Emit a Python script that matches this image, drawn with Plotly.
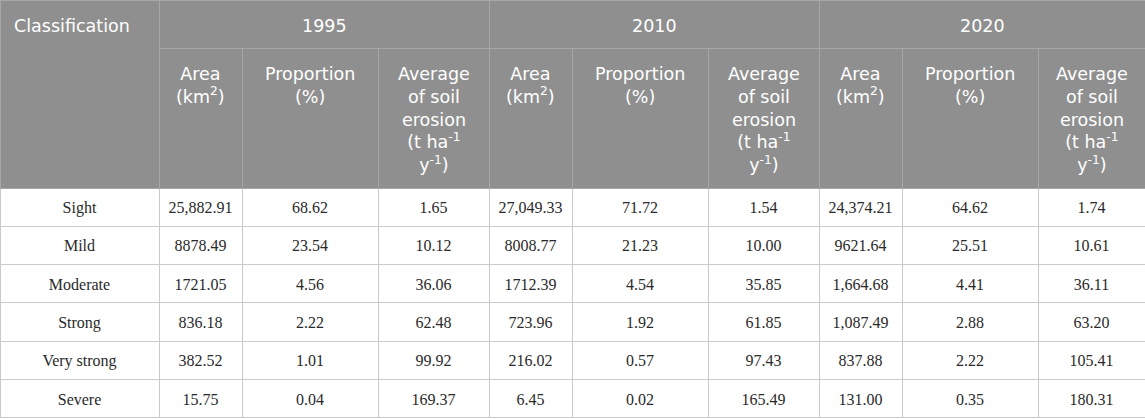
import plotly.graph_objects as go

# soil erosion intensity classes and values per year (as printed in the table)
classes = ['Sight', 'Mild', 'Moderate', 'Strong', 'Very strong', 'Severe']
years = ['1995', '2010', '2020']

area_1995 = ['25,882.91', '8878.49', '1721.05', '836.18', '382.52', '15.75']
prop_1995 = ['68.62', '23.54', '4.56', '2.22', '1.01', '0.04']
avg_1995 = ['1.65', '10.12', '36.06', '62.48', '99.92', '169.37']

area_2010 = ['27,049.33', '8008.77', '1712.39', '723.96', '216.02', '6.45']
prop_2010 = ['71.72', '21.23', '4.54', '1.92', '0.57', '0.02']
avg_2010 = ['1.54', '10.00', '35.85', '61.85', '97.43', '165.49']

area_2020 = ['24,374.21', '9621.64', '1,664.68', '1,087.49', '837.88', '131.00']
prop_2020 = ['64.62', '25.51', '4.41', '2.88', '2.22', '0.35']
avg_2020 = ['1.74', '10.61', '36.11', '63.20', '105.41', '180.31']

first_header = 'Classification'
sub_headers = ['Area<br>(km<sup>2</sup>)',
               'Proportion<br>(%)',
               'Average<br>of soil<br>erosion<br>(t ha<sup>-1</sup><br>y<sup>-1</sup>)']

W, H = 1145, 419
col_w = [159, 83, 136, 111, 83, 136, 111, 83, 136, 107]
YEAR_ROW_H = 48
HEADER_H = 188
ROW_H = 38.3
TEXT_DROP = 5  # plotly puts cell text near the top, push it down a bit
HEAD_GRAY = '#8f8f8f'
HEAD_LINE = '#a6a6a6'
BODY_LINE = '#cbcbcb'
CLEAR = 'rgba(0,0,0,0)'
HEAD_FONT = dict(family='DejaVu Sans', size=17.5, color='white')

cell_vals = [classes,
             area_1995, prop_1995, avg_1995,
             area_2010, prop_2010, avg_2010,
             area_2020, prop_2020, avg_2020]

fig = go.Figure()

# grid: header block + white body cells
fig.add_trace(go.Table(
    domain=dict(x=[0, 1], y=[0, 1]),
    columnwidth=col_w,
    header=dict(values=[' '] * len(col_w),
                fill_color=HEAD_GRAY,
                line=dict(color=HEAD_LINE, width=1),
                height=HEADER_H),
    cells=dict(values=[[' '] * len(classes) for _ in col_w],
               fill_color='white',
               line=dict(color=BODY_LINE, width=1),
               height=ROW_H)))

# year row spanning three columns each, drawn on top
group_w = [sum(col_w[1:4]), sum(col_w[4:7]), sum(col_w[7:10])]
fig.add_trace(go.Table(
    domain=dict(x=[col_w[0] / W, 1], y=[0, 1]),
    columnwidth=group_w,
    header=dict(values=[' '] * 3,
                fill_color=HEAD_GRAY,
                line=dict(color=HEAD_LINE, width=1),
                height=YEAR_ROW_H),
    cells=dict(values=[[' '], [' '], [' ']], height=1,
               fill_color=CLEAR, line=dict(color=CLEAR, width=0))))

# body values, transparent table laid over the grid
fig.add_trace(go.Table(
    domain=dict(x=[0, 1], y=[0, 1]),
    columnwidth=col_w,
    header=dict(values=[' '] * len(col_w),
                fill_color=CLEAR,
                line=dict(color=CLEAR, width=0),
                height=HEADER_H + TEXT_DROP),
    cells=dict(values=cell_vals,
               fill_color=CLEAR,
               line=dict(color=CLEAR, width=0),
               align='center',
               font=dict(family='Liberation Serif', size=16, color='#2a2a2a'),
               height=ROW_H)))

# header texts
edges = [0]
for w in col_w:
    edges.append(edges[-1] + w)


def py(px):
    return 1 - px / H


fig.add_annotation(x=12 / W, y=py(26), xref='paper', yref='paper',
                   text=first_header, showarrow=False,
                   xanchor='left', yanchor='middle', font=HEAD_FONT)
for g, yr in enumerate(years):
    x0 = edges[1 + 3 * g]
    x1 = edges[4 + 3 * g]
    fig.add_annotation(x=(x0 + x1) / 2 / W, y=py(26), xref='paper', yref='paper',
                       text=yr, showarrow=False,
                       xanchor='center', yanchor='middle', font=HEAD_FONT)
    for k, sh in enumerate(sub_headers):
        c = 1 + 3 * g + k
        fig.add_annotation(x=(edges[c] + edges[c + 1]) / 2 / W, y=py(62),
                           xref='paper', yref='paper',
                           text=sh, showarrow=False, align='center',
                           xanchor='center', yanchor='top', font=HEAD_FONT)

fig.update_layout(width=W, height=H,
                  margin=dict(l=0, r=0, t=0, b=0),
                  paper_bgcolor='white')

fig.write_html('out.html', config={'displayModeBar': False},
               post_script="document.body.style.margin='0px';")
